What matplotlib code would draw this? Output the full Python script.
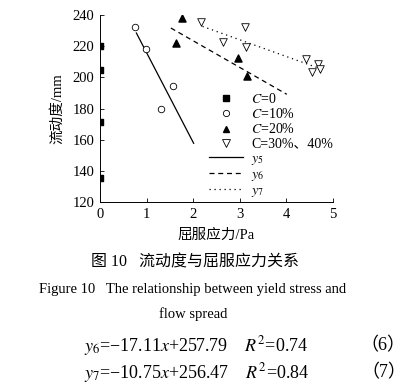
import matplotlib
matplotlib.use('Agg')
import numpy as np
from matplotlib import pyplot as plt
from matplotlib.lines import Line2D

plt.rcParams['font.family'] = ['Liberation Serif', 'Noto Sans CJK SC']
plt.rcParams['mathtext.fontset'] = 'stix'

# data
c0_x = [0, 0, 0, 0]
c0_y = [220, 205, 171.5, 135.5]
c10_x = [0.74, 0.98, 1.30, 1.56]
c10_y = [232.5, 218.5, 179.5, 194.5]
c20_x = [1.76, 1.64, 2.96, 3.16]
c20_y = [238.3, 222.2, 212.3, 201.1]
c30_x = [2.16, 3.12, 2.64, 3.13, 4.42, 4.68, 4.73, 4.56]
c30_y = [235.5, 232.3, 222.6, 219.4, 211.9, 208.6, 205.4, 203.5]

# fitted lines: slope, intercept, x range
y5_fit = (-57.6, 273.5, 0.78, 2.01)
y6_fit = (-17.11, 257.79, 1.52, 4.01)
y7_fit = (-10.75, 256.47, 2.2, 4.8)

fig = plt.figure(figsize=(4.1, 3.9), dpi=100)
ax = fig.add_axes([0.244, 0.482, 0.568, 0.479])

ax.scatter(c0_x, c0_y, marker='s', s=14, color='black', clip_on=True, zorder=3)
ax.scatter(c10_x, c10_y, marker='o', s=22, facecolor='white', edgecolor='black', linewidth=0.6, zorder=3)
ax.scatter(c20_x, c20_y, marker='^', s=26, color='black', zorder=3)
ax.scatter(c30_x, c30_y, marker='v', s=30, facecolor='white', edgecolor='black', linewidth=0.6, zorder=3)

for (k, b, x0, x1), ls in zip([y5_fit, y6_fit, y7_fit], ['-', (0, (4, 3)), (0, (1, 3))]):
    xs = np.array([x0, x1])
    ax.plot(xs, k * xs + b, color='black', lw=0.9, linestyle=ls)

ax.set_xlim(0, 5)
ax.set_ylim(120, 240)
ax.set_xticks([0, 1, 2, 3, 4, 5])
ax.set_yticks([120, 140, 160, 180, 200, 220, 240])
ax.tick_params(direction='in', length=3, width=0.6, labelsize=10.5, pad=4)
for s in ['top', 'right']:
    ax.spines[s].set_visible(False)
for s in ['left', 'bottom']:
    ax.spines[s].set_linewidth(0.7)

ax.set_xlabel('屈服应力/Pa', fontsize=10.5, labelpad=6)
ax.set_ylabel('流动度/mm', fontsize=10.5, labelpad=6)

handles = [
    Line2D([], [], marker='s', ls='', color='black', ms=4),
    Line2D([], [], marker='o', ls='', mfc='white', mec='black', ms=4.5, mew=0.6),
    Line2D([], [], marker='^', ls='', color='black', ms=5),
    Line2D([], [], marker='v', ls='', mfc='white', mec='black', ms=5.5, mew=0.6),
    Line2D([], [], color='black', lw=0.9),
    Line2D([], [], color='black', lw=0.9, ls=(0, (4, 3))),
    Line2D([], [], color='black', lw=0.9, ls=(0, (1, 3))),
]
# mathtext can't draw the CJK comma, so the last C label stays plain text
labels = ['$C$=0', '$C$=10%', '$C$=20%', 'C=30%、40%', '$y_5$', '$y_6$', '$y_7$']
ax.legend(handles, labels, loc='upper left', bbox_to_anchor=(0.44, 0.625), frameon=False,
          fontsize=10, handlelength=2.4, labelspacing=0.08, handletextpad=0.6, borderpad=0)

fig.text(0.475, 0.328, '图 10   流动度与屈服应力关系', ha='center', va='center', fontsize=11.5)
fig.text(0.47, 0.258, 'Figure 10   The relationship between yield stress and', ha='center', va='center', fontsize=10.5)
fig.text(0.47, 0.195, 'flow spread', ha='center', va='center', fontsize=10.5)
fig.text(0.205, 0.113, '$y_6$=−17.11$x$+257.79    $R^2$=0.74', ha='left', va='center', fontsize=13)
fig.text(0.205, 0.044, '$y_7$=−10.75$x$+256.47    $R^2$=0.84', ha='left', va='center', fontsize=13)
fig.text(0.99, 0.113, '（6）', ha='right', va='center', fontsize=13)
fig.text(0.99, 0.044, '（7）', ha='right', va='center', fontsize=13)

fig.savefig('out.png', dpi=100)
